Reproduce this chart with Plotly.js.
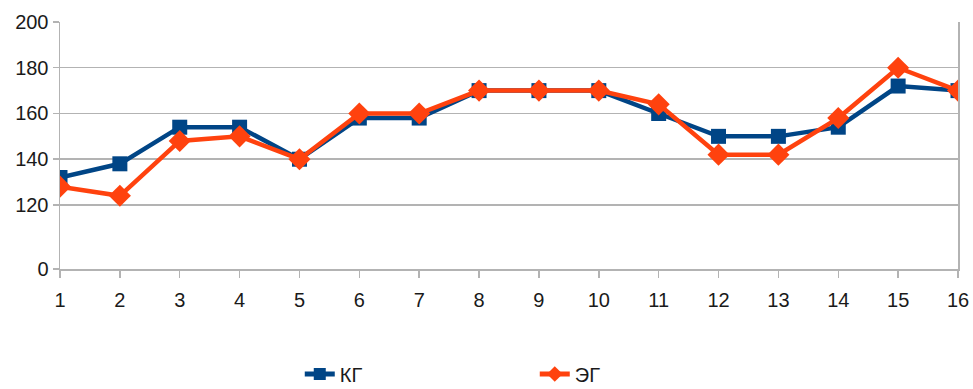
<!DOCTYPE html>
<html>
<head>
<meta charset="utf-8">
<script src="https://cdn.plot.ly/plotly-3.0.1.min.js"></script>
<style>html,body{margin:0;padding:0;background:#fff;}#chart{width:973px;height:389px;}</style>
</head>
<body>
<div id="chart"></div>
<script>
const categories = [1,2,3,4,5,6,7,8,9,10,11,12,13,14,15,16];
const kgValues = [132,138,154,154,140,158,158,170,170,170,160,150,150,154,172,170];
const egValues = [128,124,148,150,140,160,160,170,170,170,164,142,142,158,180,170];
const seriesNames = ["КГ", "ЭГ"];
const yTickVals = [92,120,140,160,180,200];
const yTickText = ["0","120","140","160","180","200"];

const traces = [
  {x: categories, y: kgValues, name: seriesNames[0], type: 'scatter', mode: 'lines+markers',
   line: {color: '#004586', width: 4.5}, marker: {symbol: 'square', size: 15, color: '#004586'}},
  {x: categories, y: egValues, name: seriesNames[1], type: 'scatter', mode: 'lines+markers',
   line: {color: '#ff420e', width: 4.5}, marker: {symbol: 'diamond', size: 17, color: '#ff420e'}}
];

const layout = {
  width: 973, height: 389,
  margin: {l: 60, r: 15, t: 22, b: 120, autoexpand: false},
  paper_bgcolor: '#fff', plot_bgcolor: '#fff',
  font: {family: 'Liberation Sans, Arial, sans-serif', size: 20, color: '#1a1a1a'},
  showlegend: true,
  legend: {orientation: 'h', x: 0.267, xanchor: 'left', y: -0.425, yanchor: 'middle',
           entrywidth: 190, entrywidthmode: 'pixels', font: {size: 20, color: '#1a1a1a'},
           itemsizing: 'constant'},
  xaxis: {range: [1, 16], tickvals: categories, showgrid: false, zeroline: false,
          showline: true, linecolor: '#b3b3b3', linewidth: 1.5,
          ticks: 'outside', ticklen: 7, tickcolor: '#b3b3b3', tickwidth: 1.5,
          ticklabelstandoff: 5, fixedrange: true},
  yaxis: {range: [92, 200], tickvals: yTickVals, ticktext: yTickText, showgrid: true,
          gridcolor: '#b3b3b3', gridwidth: 1.5, zeroline: false,
          showline: true, mirror: true, linecolor: '#b3b3b3', linewidth: 1.5,
          ticks: 'outside', ticklen: 6, tickcolor: '#b3b3b3', tickwidth: 1.5, fixedrange: true}
};

Plotly.newPlot('chart', traces, layout, {displayModeBar: false, staticPlot: true});
</script>
</body>
</html>
